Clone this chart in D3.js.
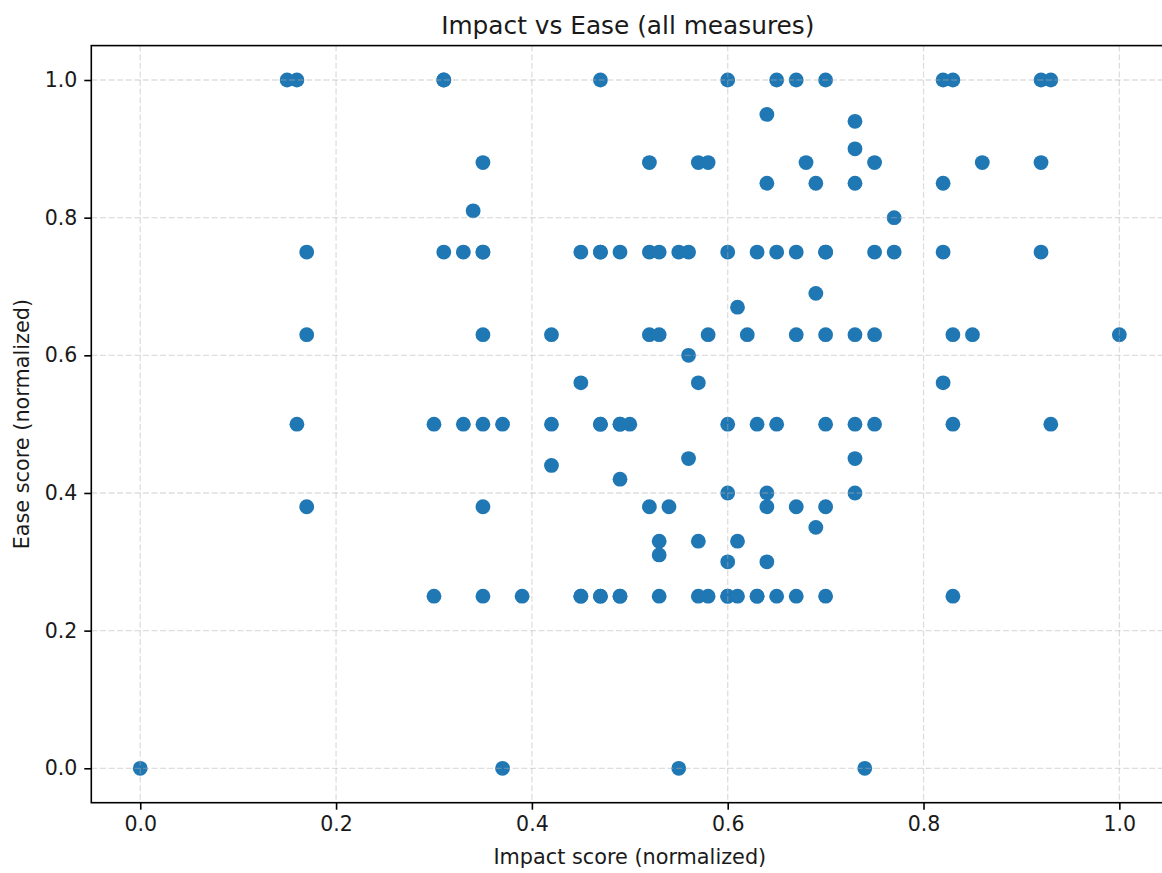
<!DOCTYPE html>
<html>
<head>
<meta charset="utf-8">
<script src="https://cdn.jsdelivr.net/npm/d3@7"></script>
<style>
  html, body { margin: 0; padding: 0; background: #fff; }
  svg { display: block; }
  text { font-family: "DejaVu Sans", sans-serif; fill: #1a1a1a; }
</style>
</head>
<body>
<svg id="chart" width="1162" height="873"></svg>
<script>
// Normalized scores for each measure, listed row by row (grouped by ease value)
const impactScores = [
  0.15, 0.16, 0.31, 0.31, 0.47, 0.60, 0.65, 0.67, 0.70, 0.82, 0.83, 0.92, 0.93,
  0.64,
  0.73,
  0.73,
  0.35, 0.52, 0.57, 0.58, 0.68, 0.75, 0.86, 0.92,
  0.64, 0.69, 0.73, 0.82,
  0.34,
  0.77,
  0.17, 0.31, 0.33, 0.35, 0.35, 0.45, 0.47, 0.47, 0.49, 0.52, 0.53, 0.55, 0.56, 0.60, 0.63, 0.65, 0.67, 0.70, 0.70, 0.75, 0.77, 0.82, 0.92,
  0.69,
  0.61,
  0.17, 0.35, 0.42, 0.52, 0.53, 0.58, 0.62, 0.67, 0.70, 0.73, 0.75, 0.83, 0.85, 1.00,
  0.56,
  0.45, 0.57, 0.82,
  0.16, 0.30, 0.33, 0.35, 0.37, 0.42, 0.47, 0.47, 0.49, 0.49, 0.50, 0.60, 0.63, 0.65, 0.70, 0.73, 0.75, 0.83, 0.93,
  0.56, 0.73,
  0.42,
  0.49,
  0.60, 0.64, 0.73,
  0.17, 0.35, 0.52, 0.54, 0.64, 0.67, 0.70,
  0.69,
  0.53, 0.57, 0.61,
  0.53,
  0.60, 0.64,
  0.30, 0.35, 0.39, 0.45, 0.45, 0.47, 0.47, 0.49, 0.49, 0.53, 0.57, 0.58, 0.60, 0.60, 0.61, 0.63, 0.63, 0.65, 0.67, 0.70, 0.83,
  0.00, 0.37, 0.55, 0.74
];

const easeScores = [
  1.00, 1.00, 1.00, 1.00, 1.00, 1.00, 1.00, 1.00, 1.00, 1.00, 1.00, 1.00, 1.00,
  0.95,
  0.94,
  0.90,
  0.88, 0.88, 0.88, 0.88, 0.88, 0.88, 0.88, 0.88,
  0.85, 0.85, 0.85, 0.85,
  0.81,
  0.80,
  0.75, 0.75, 0.75, 0.75, 0.75, 0.75, 0.75, 0.75, 0.75, 0.75, 0.75, 0.75, 0.75, 0.75, 0.75, 0.75, 0.75, 0.75, 0.75, 0.75, 0.75, 0.75, 0.75,
  0.69,
  0.67,
  0.63, 0.63, 0.63, 0.63, 0.63, 0.63, 0.63, 0.63, 0.63, 0.63, 0.63, 0.63, 0.63, 0.63,
  0.60,
  0.56, 0.56, 0.56,
  0.50, 0.50, 0.50, 0.50, 0.50, 0.50, 0.50, 0.50, 0.50, 0.50, 0.50, 0.50, 0.50, 0.50, 0.50, 0.50, 0.50, 0.50, 0.50,
  0.45, 0.45,
  0.44,
  0.42,
  0.40, 0.40, 0.40,
  0.38, 0.38, 0.38, 0.38, 0.38, 0.38, 0.38,
  0.35,
  0.33, 0.33, 0.33,
  0.31,
  0.30, 0.30,
  0.25, 0.25, 0.25, 0.25, 0.25, 0.25, 0.25, 0.25, 0.25, 0.25, 0.25, 0.25, 0.25, 0.25, 0.25, 0.25, 0.25, 0.25, 0.25, 0.25, 0.25,
  0.00, 0.00, 0.00, 0.00
];

const xTicks = [0.0, 0.2, 0.4, 0.6, 0.8, 1.0];
const yTicks = [0.0, 0.2, 0.4, 0.6, 0.8, 1.0];

const titleText = "Impact vs Ease (all measures)";
const xLabelText = "Impact score (normalized)";
const yLabelText = "Ease score (normalized)";

// Layout
const plot = { left: 91.3, right: 1168.3, top: 45.6, bottom: 802.7 };
const pointColor = "#1f77b4";
const tickFont = 20.5;
const labelFont = 20.8;
const titleFont = 24.8;

const svg = d3.select("#chart");

const x = d3.scaleLinear().domain([-0.05, 1.05]).range([plot.left, plot.right]);
const y = d3.scaleLinear().domain([-0.05, 1.05]).range([plot.bottom, plot.top]);
const fmt = d3.format(".1f");

const points = impactScores.map((v, i) => ({ impact: v, ease: easeScores[i] }));

// Scatter marks
svg.append("g")
  .selectAll("circle")
  .data(points)
  .join("circle")
  .attr("cx", d => x(d.impact))
  .attr("cy", d => y(d.ease))
  .attr("r", 7.4)
  .attr("fill", pointColor);

// Dashed grid, drawn above the markers
const grid = svg.append("g")
  .attr("stroke", "#b0b0b0")
  .attr("stroke-opacity", 0.42)
  .attr("stroke-width", 1.3)
  .attr("stroke-dasharray", "6,2.6");

grid.selectAll("line.vx")
  .data(xTicks)
  .join("line")
  .attr("class", "vx")
  .attr("x1", d => x(d)).attr("x2", d => x(d))
  .attr("y1", plot.top).attr("y2", plot.bottom);

grid.selectAll("line.hy")
  .data(yTicks)
  .join("line")
  .attr("class", "hy")
  .attr("x1", plot.left).attr("x2", plot.right)
  .attr("y1", d => y(d)).attr("y2", d => y(d));

// Axes
const xAxis = d3.axisBottom(x).tickValues(xTicks).tickFormat(fmt).tickSize(7).tickPadding(7).tickSizeOuter(0);
const yAxis = d3.axisLeft(y).tickValues(yTicks).tickFormat(fmt).tickSize(7).tickPadding(7).tickSizeOuter(0);

const gx = svg.append("g").attr("transform", `translate(0,${plot.bottom})`).call(xAxis);
const gy = svg.append("g").attr("transform", `translate(${plot.left},0)`).call(yAxis);

[gx, gy].forEach(g => {
  g.select(".domain").remove();
  g.selectAll(".tick line").attr("stroke", "#000").attr("stroke-width", 1.6);
  g.selectAll(".tick text")
    .attr("font-size", tickFont)
    .attr("font-family", "DejaVu Sans, sans-serif")
    .attr("fill", "#1a1a1a");
});

// Frame (spines)
svg.append("rect")
  .attr("x", plot.left).attr("y", plot.top)
  .attr("width", plot.right - plot.left).attr("height", plot.bottom - plot.top)
  .attr("fill", "none").attr("stroke", "#000").attr("stroke-width", 1.6);

const cx = (plot.left + plot.right) / 2;
const cy = (plot.top + plot.bottom) / 2;

svg.append("text")
  .attr("x", cx - 2).attr("y", 34)
  .attr("text-anchor", "middle")
  .attr("font-size", titleFont)
  .text(titleText);

svg.append("text")
  .attr("x", cx).attr("y", 864)
  .attr("text-anchor", "middle")
  .attr("font-size", labelFont)
  .text(xLabelText);

svg.append("text")
  .attr("transform", `translate(29,${cy}) rotate(-90)`)
  .attr("text-anchor", "middle")
  .attr("font-size", labelFont)
  .text(yLabelText);
</script>
</body>
</html>
